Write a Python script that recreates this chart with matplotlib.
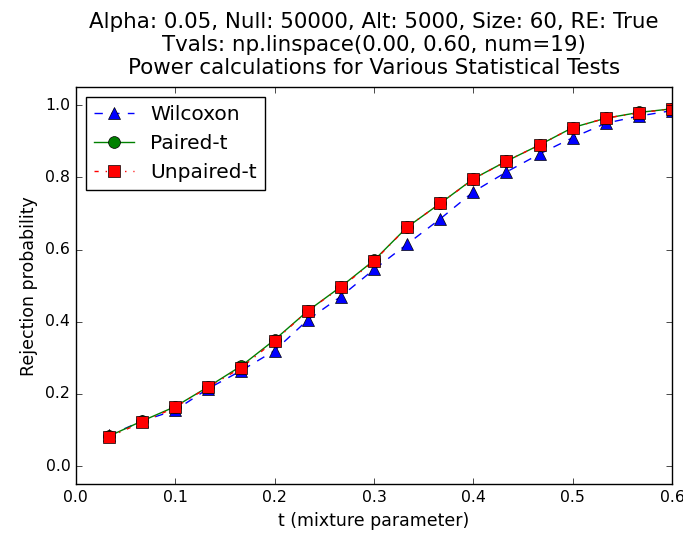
import numpy as np
import matplotlib
matplotlib.use("Agg")
import matplotlib.pyplot as plt

plt.style.use("classic")

t_vals = np.linspace(0.00, 0.60, num=19)[1:]
wilcoxon = [0.085, 0.125, 0.155, 0.215, 0.265, 0.320, 0.405, 0.470, 0.545, 0.615,
            0.685, 0.760, 0.815, 0.865, 0.910, 0.950, 0.970, 0.985]
paired = [0.083, 0.125, 0.165, 0.220, 0.278, 0.350, 0.430, 0.497, 0.570, 0.662,
          0.728, 0.796, 0.845, 0.890, 0.938, 0.964, 0.980, 0.990]
unpaired = [0.081, 0.121, 0.163, 0.219, 0.273, 0.347, 0.430, 0.495, 0.568, 0.662,
            0.728, 0.795, 0.845, 0.890, 0.938, 0.964, 0.979, 0.990]

fig = plt.figure(figsize=(6.83, 5.38), dpi=100, facecolor="white")
ax = fig.add_axes([0.111, 0.100, 0.873, 0.738])

ms = 8.5
ax.plot(t_vals, wilcoxon, color="b", linestyle="--", marker="^", markersize=ms,
        markeredgewidth=0.5, label="Wilcoxon")
ax.plot(t_vals, paired, color="g", linestyle="-", marker="o", markersize=ms,
        markeredgewidth=0.5, label="Paired-t")
ax.plot(t_vals, unpaired, color="r", linestyle="-.", marker="s", markersize=ms,
        markeredgewidth=0.5, label="Unpaired-t")

ax.set_xlim(0.0, 0.6)
ax.set_ylim(-0.05, 1.05)
ax.set_xticks(np.arange(0, 0.61, 0.1))
ax.set_yticks(np.arange(0, 1.01, 0.2))
ax.tick_params(labelsize=11.3)
ax.set_xlabel("t (mixture parameter)", fontsize=12.5)
ax.set_ylabel("Rejection probability", fontsize=12.5)
ax.set_title("Alpha: 0.05, Null: 50000, Alt: 5000, Size: 60, RE: True\n"
             "Tvals: np.linspace(0.00, 0.60, num=19)\n"
             "Power calculations for Various Statistical Tests",
             fontsize=15.4, pad=9.5)
ax.legend(loc="upper left", numpoints=1, fontsize=14.5)

fig.savefig("out.png", dpi=100, facecolor="white")
